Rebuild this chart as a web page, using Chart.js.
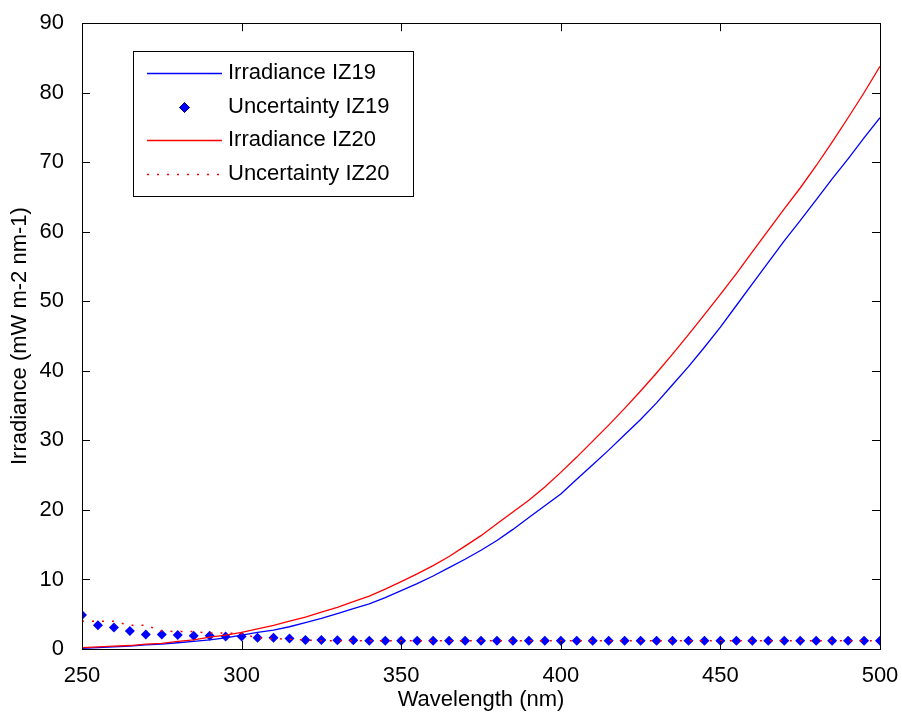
<!DOCTYPE html>
<html>
<head>
<meta charset="utf-8">
<title>Irradiance IZ19 / IZ20</title>
<script src="https://cdn.jsdelivr.net/npm/chart.js"></script>
<style>
    body { margin: 0; background: #fff; }
    #chart-container { width: 902px; height: 717px; }
</style>
</head>
<body>
<div id="chart-container">
    <canvas id="irradianceChart" width="902" height="717"></canvas>
</div>
<script>
// Data
var wavelength = [250, 255, 260, 265, 270, 275, 280, 285, 290, 295,
    300, 305, 310, 315, 320, 325, 330, 335, 340, 345,
    350, 355, 360, 365, 370, 375, 380, 385, 390, 395,
    400, 405, 410, 415, 420, 425, 430, 435, 440, 445,
    450, 455, 460, 465, 470, 475, 480, 485, 490, 495, 500];

var irradianceIZ19 = [0.1, 0.2, 0.3, 0.4, 0.6, 0.7, 0.9, 1.1, 1.3, 1.6,
    2.0, 2.4, 2.7, 3.2, 3.8, 4.4, 5.1, 5.8, 6.5, 7.4,
    8.4, 9.4, 10.5, 11.7, 12.9, 14.2, 15.6, 17.2, 18.9, 20.6,
    22.3, 24.4, 26.5, 28.6, 30.8, 33.0, 35.4, 38.0, 40.6, 43.4,
    46.3, 49.4, 52.5, 55.6, 58.7, 61.6, 64.6, 67.6, 70.5, 73.5, 76.4];

var uncertaintyIZ19 = [4.9, 3.4, 3.1, 2.6, 2.1, 2.1, 2.0, 1.9, 1.9, 1.8,
    1.8, 1.6, 1.6, 1.5, 1.3, 1.3, 1.25, 1.25, 1.2, 1.2,
    1.2, 1.2, 1.2, 1.2, 1.2, 1.2, 1.2, 1.2, 1.2, 1.2,
    1.2, 1.2, 1.2, 1.2, 1.2, 1.2, 1.2, 1.2, 1.2, 1.2,
    1.2, 1.2, 1.2, 1.2, 1.2, 1.2, 1.2, 1.2, 1.2, 1.2, 1.2];

var irradianceIZ20 = [0.2, 0.3, 0.4, 0.5, 0.7, 0.8, 1.1, 1.3, 1.7, 2.0,
    2.4, 2.9, 3.4, 4.0, 4.6, 5.3, 6.0, 6.8, 7.6, 8.6,
    9.7, 10.8, 12.0, 13.3, 14.8, 16.3, 18.0, 19.7, 21.4, 23.3,
    25.4, 27.6, 29.9, 32.2, 34.6, 37.1, 39.7, 42.4, 45.2, 48.1,
    51.0, 54.0, 57.1, 60.2, 63.3, 66.3, 69.5, 72.9, 76.4, 80.0, 83.8];

var uncertaintyIZ20 = [4.0, 4.0, 4.0, 3.4, 3.4, 2.6, 2.5, 2.5, 2.3, 2.3,
    2.2, 1.6, 1.5, 1.4, 1.3, 1.2, 1.2, 1.2, 1.2, 1.2,
    1.2, 1.2, 1.2, 1.2, 1.2, 1.2, 1.2, 1.2, 1.2, 1.2,
    1.2, 1.2, 1.2, 1.2, 1.2, 1.2, 1.2, 1.2, 1.2, 1.2,
    1.2, 1.2, 1.2, 1.2, 1.2, 1.2, 1.2, 1.2, 1.2, 1.2, 1.2];

var xTicks = [250, 300, 350, 400, 450, 500];
var yTicks = [0, 10, 20, 30, 40, 50, 60, 70, 80, 90];

var FONT = { family: '"Liberation Sans", Arial, sans-serif', size: 22 };

function toPoints(values) {
    return wavelength.map((w, i) => ({ x: w, y: values[i] }));
}

// Box around the axes with inward ticks (matlab style)
var boxAxesPlugin = {
    id: 'boxAxes',
    afterDraw: function (chart) {
        var ctx = chart.ctx;
        var area = chart.chartArea;
        var xs = chart.scales.x;
        var ys = chart.scales.y;
        var tick = 8;
        ctx.save();
        ctx.strokeStyle = '#000';
        ctx.lineWidth = 1;
        ctx.beginPath();
        xTicks.forEach(v => {
            var px = Math.round(xs.getPixelForValue(v)) + 0.5;
            ctx.moveTo(px, area.bottom); ctx.lineTo(px, area.bottom - tick);
            ctx.moveTo(px, area.top); ctx.lineTo(px, area.top + tick);
        });
        yTicks.forEach(v => {
            var py = Math.round(ys.getPixelForValue(v)) + 0.5;
            ctx.moveTo(area.left, py); ctx.lineTo(area.left + tick, py);
            ctx.moveTo(area.right, py); ctx.lineTo(area.right - tick, py);
        });
        ctx.stroke();
        ctx.strokeRect(Math.round(area.left) + 0.5, Math.round(area.top) + 0.5,
            Math.round(area.right - area.left), Math.round(area.bottom - area.top));
        ctx.restore();
    }
};

// Legend drawn inside the plot, upper left
var boxLegendPlugin = {
    id: 'boxLegend',
    afterDraw: function (chart) {
        var ctx = chart.ctx;
        var left = 133.5, top = 51.5, width = 280, height = 145;
        var rows = [73, 107, 140, 174];
        ctx.save();
        ctx.fillStyle = '#fff';
        ctx.fillRect(left, top, width, height);
        ctx.strokeStyle = '#000';
        ctx.lineWidth = 1;
        ctx.strokeRect(left, top, width, height);

        chart.data.datasets.forEach((ds, i) => {
            var y = rows[i] + 0.5;
            ctx.save();
            if (ds.showLine !== false) {
                ctx.strokeStyle = ds.borderColor;
                ctx.lineWidth = ds.borderWidth;
                ctx.setLineDash(ds.borderDash || []);
                ctx.beginPath();
                ctx.moveTo(147, y);
                ctx.lineTo(222, y);
                ctx.stroke();
            } else {
                Chart.helpers.drawPoint(ctx, {
                    pointStyle: ds.pointStyle,
                    radius: ds.pointRadius,
                    borderWidth: 1
                }, 184.5, y);
                ctx.fillStyle = ds.pointBackgroundColor;
                ctx.fill();
            }
            ctx.restore();
            ctx.fillStyle = '#000';
            ctx.font = FONT.size + 'px ' + FONT.family;
            ctx.textBaseline = 'middle';
            ctx.textAlign = 'left';
            ctx.fillText(ds.label, 228, rows[i]);
        });
        ctx.restore();
    }
};

function showIrradianceChart() {
    var ctx = document.getElementById('irradianceChart').getContext('2d');
    var irradianceChart = new Chart(ctx, {
        type: 'line',
        data: {
            datasets: [{
                label: 'Irradiance IZ19',
                data: toPoints(irradianceIZ19),
                borderColor: '#0000ff',
                borderWidth: 1.3,
                pointRadius: 0,
                tension: 0,
                order: 4
            },
            {
                label: 'Uncertainty IZ19',
                data: toPoints(uncertaintyIZ19),
                showLine: false,
                pointStyle: 'rectRot',
                pointRadius: 5,
                pointBorderWidth: 0,
                pointBackgroundColor: '#0000ff',
                pointBorderColor: '#0000ff',
                borderColor: '#0000ff',
                order: 3
            },
            {
                label: 'Irradiance IZ20',
                data: toPoints(irradianceIZ20),
                borderColor: '#ff0000',
                borderWidth: 1.3,
                pointRadius: 0,
                tension: 0,
                order: 2
            },
            {
                label: 'Uncertainty IZ20',
                data: toPoints(uncertaintyIZ20),
                borderColor: '#ff0000',
                borderWidth: 1.5,
                borderDash: [2, 8],
                pointRadius: 0,
                tension: 0,
                order: 1
            }]
        },
        options: {
            responsive: false,
            animation: false,
            layout: { padding: { left: 0, top: 21, right: 0, bottom: 0 } },
            plugins: {
                legend: { display: false },
                tooltip: { enabled: false }
            },
            scales: {
                x: {
                    type: 'linear',
                    min: 250,
                    max: 500,
                    afterBuildTicks: function (scale) {
                        scale.ticks = xTicks.map(v => ({ value: v }));
                    },
                    afterFit: function (scale) {
                        scale.height = 68;
                        // keep the plot edge where the original has it
                        scale.paddingLeft = 0;
                        scale.paddingRight = 22;
                    },
                    grid: { display: false },
                    border: { display: false },
                    ticks: { color: '#000', font: FONT, padding: 6, maxRotation: 0 },
                    title: {
                        display: true,
                        text: 'Wavelength (nm)',
                        color: '#000',
                        font: FONT,
                        padding: { top: 0, bottom: 4 }
                    }
                },
                y: {
                    min: 0,
                    max: 90,
                    afterBuildTicks: function (scale) {
                        scale.ticks = yTicks.map(v => ({ value: v }));
                    },
                    afterFit: function (scale) { scale.width = 82; },
                    grid: { display: false },
                    border: { display: false },
                    ticks: { color: '#000', font: FONT, padding: 10 },
                    title: {
                        display: true,
                        text: 'Irradiance (mW m-2 nm-1)',
                        color: '#000',
                        font: FONT,
                        padding: { top: 7, bottom: 0 }
                    }
                }
            }
        },
        plugins: [boxAxesPlugin, boxLegendPlugin]
    });
}

showIrradianceChart();
</script>
</body>
</html>
